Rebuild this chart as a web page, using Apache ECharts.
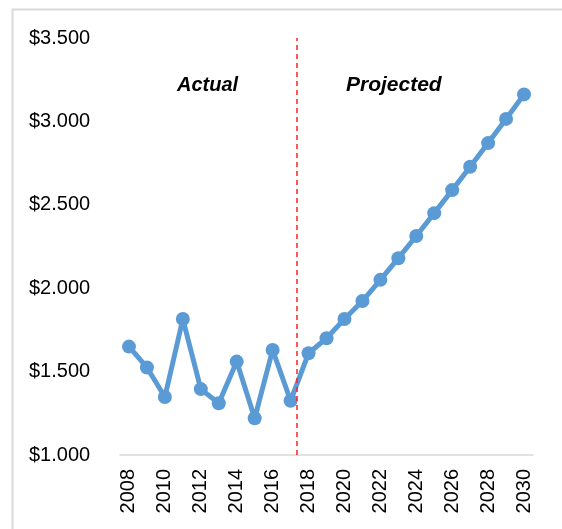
<!DOCTYPE html>
<html>
<head>
<meta charset="utf-8">
<script src="https://cdn.jsdelivr.net/npm/echarts@6/dist/echarts.min.js"></script>
</head>
<body style="margin:0">
<div id="main" style="width:562px;height:529px;"></div>
<script type="text/javascript">
    // data
    var years = ['2008','2009','2010','2011','2012','2013','2014','2015','2016','2017','2018','2019',
                 '2020','2021','2022','2023','2024','2025','2026','2027','2028','2029','2030'];
    var values = [1650, 1525, 1348, 1815, 1395, 1310, 1560, 1220, 1630, 1325, 1610, 1700,
                  1815, 1923, 2050, 2180, 2313, 2450, 2588, 2728, 2870, 3015, 3162];
    var yTicks = [1000, 3500, 500]; // min, max, step
    var splitAt = 9.33; // between 2017 and 2018

    var myChart = echarts.init(document.getElementById('main'));
    var font = 'Liberation Sans';

    var option = {
        animation: false,
        grid: { left: 120, right: 29, top: 38, bottom: 74 },
        graphic: [
            { type: 'rect', shape: { x: 12.5, y: 9.5, width: 600, height: 600 },
              style: { fill: 'none', stroke: '#d9d9d9', lineWidth: 2 } },
            { type: 'text', left: 177, top: 75,
              style: { text: 'Actual', font: 'italic bold 20px ' + font, fill: '#000' } },
            { type: 'text', left: 346, top: 75,
              style: { text: 'Projected', font: 'italic bold 21px ' + font, fill: '#000' } }
        ],
        xAxis: [{
            type: 'category',
            data: years,
            boundaryGap: true,
            axisLine: { lineStyle: { color: '#d9d9d9', width: 1.5 } },
            axisTick: { show: false },
            axisLabel: { interval: 1, rotate: 90, fontSize: 20, fontFamily: font, color: '#000', margin: 14 }
        }, {
            type: 'value', min: -0.5, max: years.length - 0.5, show: false
        }],
        yAxis: {
            type: 'value',
            min: yTicks[0], max: yTicks[1], interval: yTicks[2],
            axisLine: { show: false },
            axisTick: { show: false },
            splitLine: { show: false },
            axisLabel: {
                align: 'left', margin: 91, fontSize: 20, fontFamily: font, color: '#000',
                formatter: function (v) { return '$' + (v / 1000).toFixed(3); }
            }
        },
        series: [{
            type: 'line',
            data: values,
            symbol: 'circle',
            symbolSize: 14,
            showAllSymbol: true,
            lineStyle: { color: '#5b9bd5', width: 5 },
            itemStyle: { color: '#5b9bd5' },
            z: 3
        }, {
            type: 'line',
            xAxisIndex: 1,
            data: [[splitAt, yTicks[0]]],
            showSymbol: false,
            lineStyle: { width: 0 },
            markLine: {
                silent: true,
                symbol: 'none',
                label: { show: false },
                lineStyle: { color: '#ff2020', type: [5, 4], width: 1.5, opacity: 1 },
                emphasis: { disabled: true },
                data: [{ xAxis: splitAt }]
            },
            z: 5
        }]
    };
    myChart.setOption(option);
</script>
</body>
</html>
